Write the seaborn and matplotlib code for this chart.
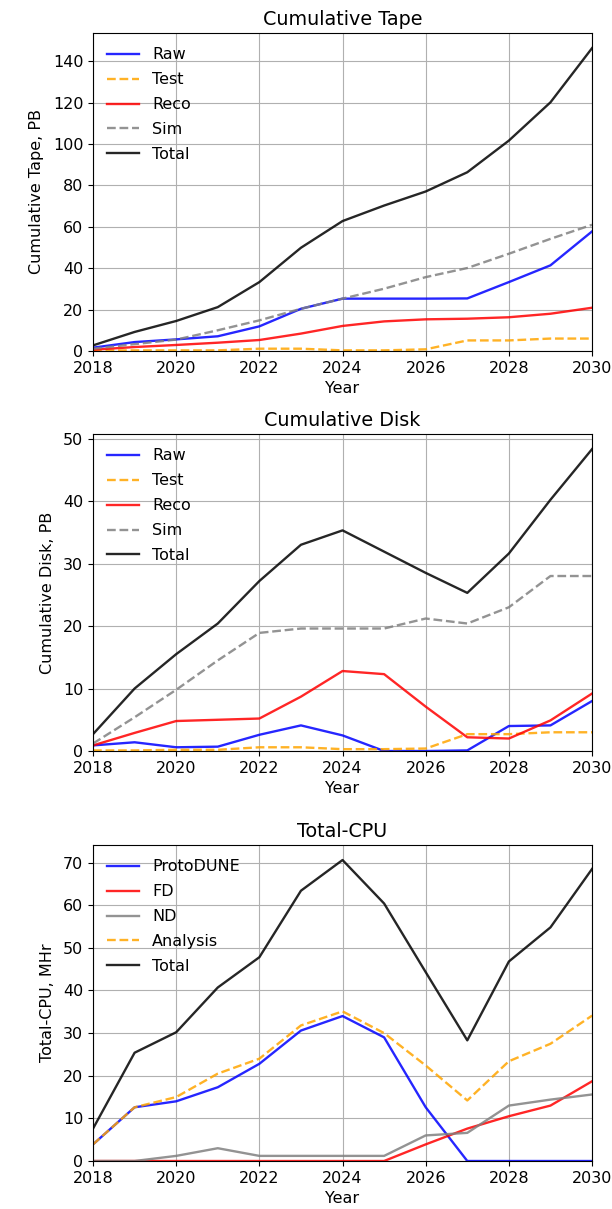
import numpy as np
import pandas as pd
import matplotlib
matplotlib.use("Agg")
import matplotlib.pyplot as plt
import seaborn as sns

plt.rcParams["font.size"] = 11.5

years = list(range(2018, 2031))

# Cumulative tape, PB
tape_raw = [1.6, 4.3, 5.6, 7.1, 11.9, 20.4, 25.3, 25.3, 25.3, 25.4, 33.3, 41.4, 57.8]
tape_test = [0.2, 0.3, 0.3, 0.3, 1.1, 1.1, 0.3, 0.3, 0.8, 5.1, 5.1, 6.0, 6.0]
tape_reco = [0.6, 1.9, 2.9, 4.0, 5.3, 8.4, 12.1, 14.3, 15.3, 15.6, 16.3, 18.0, 20.9]
tape_sim = [1.1, 3.3, 5.5, 10.0, 14.8, 20.4, 25.3, 30.1, 35.7, 40.1, 47.0, 54.2, 61.0]
tape_total = [2.7, 9.2, 14.5, 21.2, 33.3, 49.9, 62.8, 70.3, 77.1, 86.4, 101.7, 120.2, 146.4]

# Cumulative disk, PB
disk_raw = [0.9, 1.4, 0.6, 0.7, 2.6, 4.1, 2.5, 0.0, 0.0, 0.1, 4.0, 4.1, 8.0]
disk_test = [0.1, 0.1, 0.2, 0.2, 0.6, 0.6, 0.3, 0.3, 0.4, 2.7, 2.7, 3.0, 3.0]
disk_reco = [0.9, 2.9, 4.8, 5.0, 5.2, 8.7, 12.8, 12.3, 7.1, 2.2, 2.0, 4.9, 9.2]
disk_sim = [1.2, 5.4, 9.8, 14.5, 18.9, 19.6, 19.6, 19.6, 21.2, 20.4, 23.0, 28.0, 28.0]
disk_total = [2.7, 10.0, 15.5, 20.4, 27.2, 33.0, 35.3, 31.9, 28.5, 25.3, 31.6, 40.2, 48.3]

# Total CPU, MHr
cpu_protodune = [3.9, 12.6, 14.0, 17.3, 22.8, 30.6, 34.0, 29.0, 12.6, 0.0, 0.0, 0.0, 0.0]
cpu_fd = [0.0, 0.0, 0.0, 0.0, 0.0, 0.0, 0.0, 0.0, 3.9, 7.6, 10.5, 13.0, 18.7]
cpu_nd = [0.0, 0.0, 1.2, 3.0, 1.2, 1.2, 1.2, 1.2, 6.0, 6.6, 13.0, 14.4, 15.6]
cpu_analysis = [3.9, 12.6, 15.0, 20.5, 24.0, 31.8, 35.1, 30.0, 22.4, 14.2, 23.4, 27.5, 34.1]
cpu_total = [7.6, 25.4, 30.2, 40.7, 47.8, 63.4, 70.6, 60.4, 44.3, 28.3, 46.8, 54.8, 68.5]

storage_styles = [("Raw", "blue", "-"), ("Test", "orange", "--"), ("Reco", "red", "-"),
                  ("Sim", "gray", "--"), ("Total", "black", "-")]
cpu_styles = [("ProtoDUNE", "blue", "-"), ("FD", "red", "-"), ("ND", "gray", "-"),
              ("Analysis", "orange", "--"), ("Total", "black", "-")]

panels = [
    ("Cumulative Tape", "Cumulative Tape, PB", storage_styles,
     [tape_raw, tape_test, tape_reco, tape_sim, tape_total]),
    ("Cumulative Disk", "Cumulative Disk, PB", storage_styles,
     [disk_raw, disk_test, disk_reco, disk_sim, disk_total]),
    ("Total-CPU", "Total-CPU, MHr", cpu_styles,
     [cpu_protodune, cpu_fd, cpu_nd, cpu_analysis, cpu_total]),
]

boxes = [(0.152, 0.7097, 0.8154, 0.2630),
         (0.152, 0.3788, 0.8154, 0.2622),
         (0.152, 0.0397, 0.8154, 0.2614)]

fig = plt.figure(figsize=(6.12, 12.09), dpi=100)

for box, (title, ylabel, styles, series) in zip(boxes, panels):
    ax = fig.add_axes(box)
    for (name, color, ls), vals in zip(styles, series):
        df = pd.DataFrame({"Year": years, "value": vals})
        sns.lineplot(data=df, x="Year", y="value", ax=ax, color=color,
                     linestyle=ls, label=name, alpha=0.85, linewidth=1.7)
    ax.set_xlim(2018, 2030)
    ax.set_ylim(bottom=0)
    ax.set_title(title)
    ax.set_xlabel("Year", labelpad=3.5)
    ax.set_ylabel(ylabel, labelpad=6)
    ax.grid(True)
    ax.legend(loc="upper left", frameon=False, labelspacing=0.62)

fig.savefig("out.png", dpi=100)
